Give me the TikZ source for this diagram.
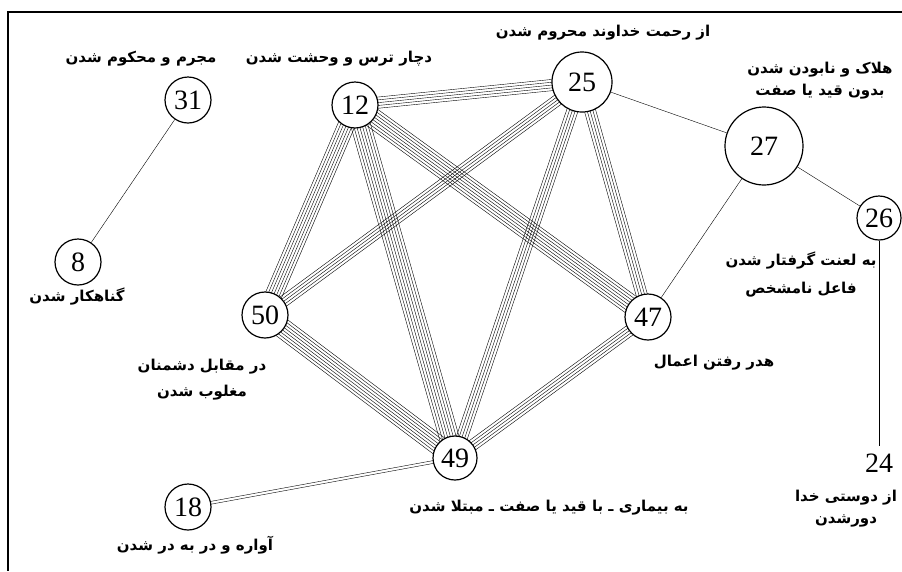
\documentclass[tikz,border=0pt]{standalone}
\usepackage{fontspec}
\setmainfont{Liberation Serif}
\newfontfamily\arabicfont[Script=Arabic]{DejaVu Sans}
\TeXXeTstate=1
\usepackage{tikz}
\usetikzlibrary{calc,positioning,backgrounds}
\newcommand{\rtl}[1]{{\arabicfont\bfseries\beginR #1\endR}}
\newcommand{\bundle}[3]{%
    \foreach \k in {1,...,#3}{%
        \pgfmathsetmacro{\off}{(\k-(#3+1)/2)*2.8}%
        \draw ($(#1.center)!\off pt!90:(#2.center)$) -- ($(#2.center)!\off pt!-90:(#1.center)$);
    }%
}

\begin{document}
\begin{tikzpicture}[x=1pt, y=-1pt,
        state/.style={circle, draw, line width=1.2pt, fill=white, minimum size=46pt, inner sep=0pt, font=\fontsize{28}{28}\selectfont},
        tag/.style={font=\fontsize{15}{25}\selectfont, align=center}]
    \useasboundingbox (0,0) rectangle (902,571);
    \draw[line width=1.5pt] (902,12) -- (8,12) -- (8,571);

    \node[state] (n31) at (188,100) {31};
    \node[state] (n12) at (355,105) {12};
    \node[state, minimum size=60pt] (n25) at (582,82) {25};
    \node[state, minimum size=78pt] (n27) at (764,146) {27};
    \node[state, minimum size=44pt] (n26) at (879,218) {26};
    \node[state] (n8) at (78,262) {8};
    \node[state] (n50) at (265,315) {50};
    \node[state] (n47) at (648,317) {47};
    \node[state, minimum size=44pt] (n49) at (455,458) {49};
    \node[state] (n18) at (188,507) {18};
    \node[font=\fontsize{28}{28}\selectfont, inner sep=8pt] (n24) at (879,463) {24};

    \node[tag] (l31) at (141,59) {\rtl{مجرم و محکوم شدن}};
    \node[tag] (l12) at (339,59) {\rtl{دچار ترس و وحشت شدن}};
    \node[tag] (l25) at (603,33) {\rtl{از رحمت خداوند محروم شدن}};
    \node[tag, font=\fontsize{15}{22}\selectfont] (l27) at (820,81) {\rtl{هلاک و نابودن شدن}\\\rtl{بدون قید یا صفت}};
    \node[tag, font=\fontsize{15}{28}\selectfont] (l26) at (801,275) {\rtl{به لعنت گرفتار شدن}\\\rtl{فاعل نامشخص}};
    \node[tag] (l8) at (77,297) {\rtl{گناهکار شدن}};
    \node[tag, font=\fontsize{15}{26}\selectfont] (l50) at (202,380) {\rtl{در مقابل دشمنان}\\\rtl{مغلوب شدن}};
    \node[tag] (l47) at (714,363) {\rtl{هدر رفتن اعمال}};
    \node[tag] (l49) at (549,508) {\rtl{به بیماری ـ با قید یا صفت ـ مبتلا شدن}};
    \node[tag] (l18) at (195,545) {\rtl{آواره و در به در شدن}};
    \node[tag, font=\fontsize{15}{22}\selectfont] (l24) at (846,509) {\rtl{از دوستی خدا}\\\rtl{دورشدن}};

    \begin{scope}[on background layer, line width=0.8pt]
        \bundle{n12}{n25}{5}
        \bundle{n12}{n50}{7}
        \bundle{n12}{n49}{8}
        \bundle{n12}{n47}{8}
        \bundle{n25}{n50}{5}
        \bundle{n25}{n49}{5}
        \bundle{n25}{n47}{5}
        \bundle{n50}{n49}{8}
        \bundle{n47}{n49}{5}
        \bundle{n18}{n49}{2}
        \draw (n25) -- (n27);
        \draw (n27) -- (n47);
        \draw (n27) -- (n26);
        \draw (n26) -- (n24);
        \draw (n31) -- (n8);
    \end{scope}
\end{tikzpicture}
\end{document}
